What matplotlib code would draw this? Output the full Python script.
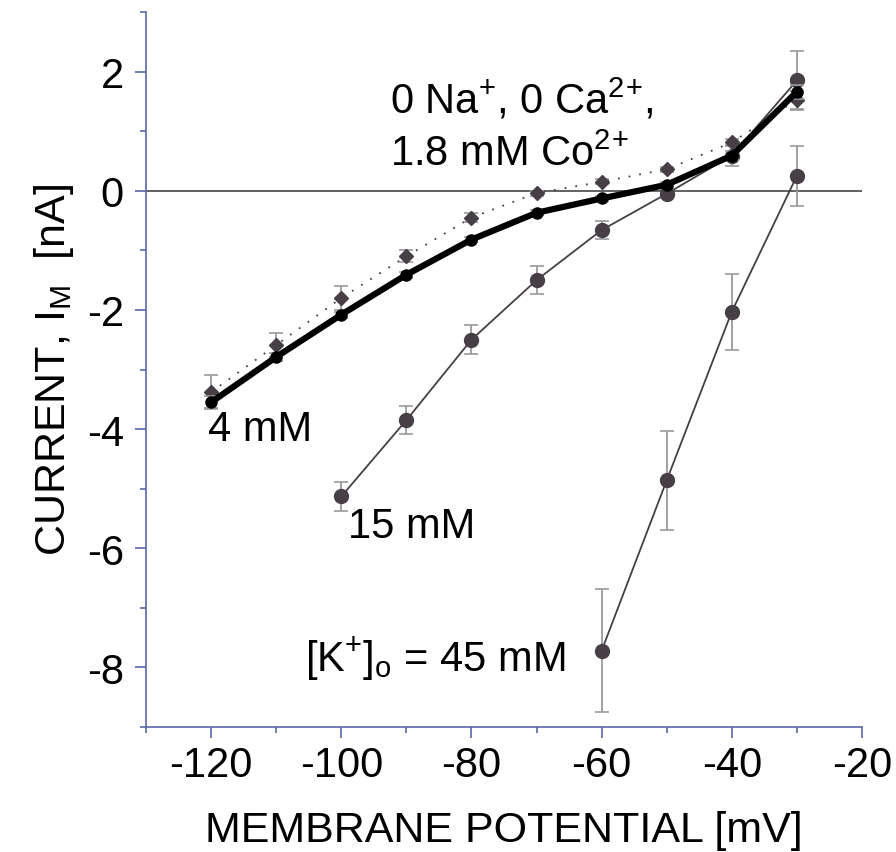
import matplotlib
matplotlib.use("Agg")
import matplotlib.pyplot as plt
from matplotlib.ticker import MultipleLocator

plt.rcParams['font.family'] = ['Liberation Sans', 'DejaVu Sans']
plt.rcParams['mathtext.fontset'] = 'custom'
plt.rcParams['mathtext.rm'] = 'Liberation Sans'
plt.rcParams['mathtext.it'] = 'Liberation Sans'
plt.rcParams['axes.unicode_minus'] = False

# Data
v_4 = [-120, -110, -100, -90, -80, -70, -60, -50, -40, -30]
i_4 = [-3.55, -2.79, -2.08, -1.41, -0.82, -0.37, -0.13, 0.10, 0.59, 1.66]
e_4 = [0.10, 0.06, 0.05, 0.05, 0.04, 0.04, 0.04, 0.05, 0.08, 0.12]

v_co = [-120, -110, -100, -90, -80, -70, -60, -50, -40, -30]
i_co = [-3.38, -2.59, -1.80, -1.10, -0.45, -0.04, 0.15, 0.36, 0.81, 1.53]
e_co = [0.28, 0.20, 0.20, 0.10, 0.07, 0.04, 0.04, 0.04, 0.06, 0.15]

v_15 = [-100, -90, -80, -70, -60, -50, -40, -30]
i_15 = [-5.13, -3.85, -2.50, -1.50, -0.66, -0.05, 0.59, 1.85]
e_15 = [0.25, 0.24, 0.24, 0.24, 0.15, 0.08, 0.17, 0.50]

v_45 = [-60, -50, -40, -30]
i_45 = [-7.72, -4.86, -2.03, 0.25]
e_45 = [1.03, 0.83, 0.64, 0.50]

axis_col = '#5a68a8'
dark = '#463f46'
errc = '#9a9a9a'

fig = plt.figure(figsize=(8.96, 8.53), dpi=100)
ax = fig.add_axes([0.163, 0.1465, 0.799, 0.8383])

ax.axhline(0, color='#555555', lw=1.3, zorder=1)

ax.errorbar(v_45, i_45, yerr=e_45, fmt='o', color=dark, ms=10, lw=1.2,
            ecolor=errc, elinewidth=1.3, capsize=5, capthick=1.2, zorder=3)
ax.plot(v_45, i_45, '-', color=dark, lw=1.3, zorder=2)

ax.errorbar(v_15, i_15, yerr=e_15, fmt='o', color=dark, ms=10,
            ecolor=errc, elinewidth=1.3, capsize=5, capthick=1.2, zorder=3)
ax.plot(v_15, i_15, '-', color=dark, lw=1.3, zorder=2)

ax.errorbar(v_co, i_co, yerr=e_co, fmt='D', color=dark, ms=7.5,
            ecolor=errc, elinewidth=1.3, capsize=5, capthick=1.2, zorder=4)
ax.plot(v_co, i_co, linestyle=(0, (1, 5)), color=dark, lw=1.3, zorder=2)

ax.errorbar(v_4, i_4, yerr=e_4, fmt='o', color='black', ms=8,
            ecolor=errc, elinewidth=1.3, capsize=5, capthick=1.2, zorder=5)
ax.plot(v_4, i_4, '-', color='black', lw=4.5, zorder=5)

ax.set_xlim(-130, -20)
ax.set_ylim(-9, 3)
ax.xaxis.set_major_locator(MultipleLocator(20))
ax.xaxis.set_minor_locator(MultipleLocator(10))
ax.yaxis.set_major_locator(MultipleLocator(2))
ax.yaxis.set_minor_locator(MultipleLocator(1))

for s in ['top', 'right']:
    ax.spines[s].set_visible(False)
for s in ['left', 'bottom']:
    ax.spines[s].set_color(axis_col)
    ax.spines[s].set_linewidth(1.2)

ax.tick_params(which='major', length=8, width=1.2, color=axis_col,
               labelsize=30, direction='out')
ax.tick_params(which='minor', length=4, width=1.2, color=axis_col, direction='out')
ax.tick_params(axis='x', which='major', pad=5)
ax.tick_params(axis='y', which='major', pad=8)

ax.set_xlabel('MEMBRANE POTENTIAL [mV]', fontsize=31, labelpad=18)
ax.set_ylabel(r'CURRENT, I$_{\mathrm{M}}$  [nA]', fontsize=31, labelpad=8)

fs = 30
ax.text(-92.5, 1.55, r'0 Na$^{+}$, 0 Ca$^{2}$$^{+}$,', fontsize=fs, ha='left', va='center')
ax.text(-92.5, 0.62, r'1.8 mM Co$^{2}$$^{+}$', fontsize=fs, ha='left', va='center')
ax.text(-120.5, -4.0, '4 mM', fontsize=fs, ha='left', va='center')
ax.text(-99.0, -5.62, '15 mM', fontsize=fs, ha='left', va='center')
ax.text(-105.6, -7.85, r'[K$^{+}$]$_{\mathrm{o}}$ = 45 mM', fontsize=fs, ha='left', va='center')

fig.savefig('out.png', dpi=100)
